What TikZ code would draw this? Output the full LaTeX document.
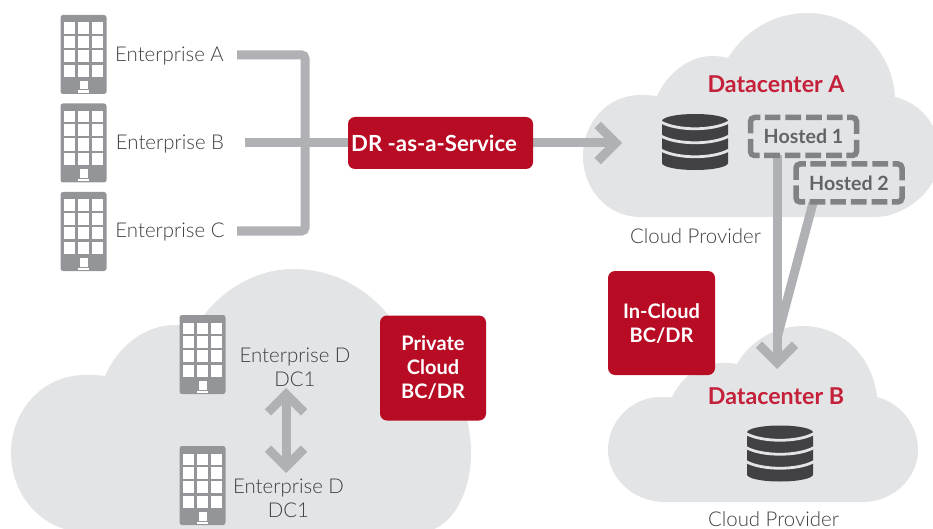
\documentclass[tikz,border=0pt]{standalone}
\usepackage{fontspec}
\setmainfont{Lato}
\newfontfamily\lightface{Lato Light}
\usetikzlibrary{arrows.meta}
\definecolor{cloudc}{HTML}{E3E4E5}
\definecolor{pipec}{HTML}{B0B1B4}
\definecolor{redbox}{HTML}{B80C24}
\definecolor{redtxt}{HTML}{C4203A}
\definecolor{txtc}{HTML}{3F3F41}
\definecolor{bldc}{HTML}{939598}
\definecolor{dbc}{HTML}{414042}
\definecolor{dashc}{HTML}{808285}
\definecolor{hostc}{HTML}{636466}
\tikzset{
  cloudshape/.style={fill=cloudc,draw=none},
  pipe/.style={draw=pipec,line width=9pt},
  headpipe/.style={draw=pipec,line width=9pt,-{Straight Barb[length=18pt,width=36pt]}},
  bothpipe/.style={draw=pipec,line width=9pt,{Straight Barb[length=18pt,width=36pt]}-{Straight Barb[length=18pt,width=36pt]}},
  redblock/.style={fill=redbox,rounded corners=7pt,inner sep=0pt,text=white,align=center,font=\fontsize{20}{24}\selectfont\bfseries},
  lbl/.style={text=txtc,inner sep=0pt,align=center,font=\lightface\fontsize{20.4}{24}\selectfont},
  dctitle/.style={text=redtxt,inner sep=0pt,font=\fontsize{23.2}{26}\selectfont\bfseries},
  hostedbox/.style={minimum width=106pt,minimum height=38pt,inner sep=0pt,outer sep=0pt,text=hostc,font=\fontsize{19.6}{24}\selectfont\bfseries},
  dashring/.style={draw=dashc,line width=5.5pt,rounded corners=4pt,dash pattern=on 0pt off 3pt on 23.9pt off 4.5pt on 15.7pt off 5pt on 15.7pt off 5pt on 15.7pt off 5pt on 15.7pt off 4.5pt on 23.9pt off 6pt on 23.9pt off 4.5pt on 15.7pt off 5pt on 15.7pt off 5pt on 15.7pt off 5pt on 15.7pt off 4.5pt on 23.9pt off 3pt},
  building/.pic={
    \fill[bldc,rounded corners=2.5pt] (0,0) rectangle (46,79);
    \foreach \cx/\cw in {3.7/10.4,17/11.8,31.5/10.8}
      \foreach \cy/\ch in {7.5/11.2,21/12,35/12.4,50/12}
        \fill[white] (\cx,\cy) rectangle ++(\cw,\ch);
    \fill[white] (19,66) rectangle (27,74.5);
    \fill[white] (17.4,75.5) rectangle (28.6,78);
  },
  dbstack/.pic={
    \fill[dbc] (0,7) .. controls (0,3.1) and (14.8,0) .. (33,0) .. controls (51.2,0) and (66,3.1) .. (66,7)
      -- (66,49) .. controls (66,52.9) and (51.2,56) .. (33,56) .. controls (14.8,56) and (0,52.9) .. (0,49) -- cycle;
    \foreach \gy in {8,22,36}
      \draw[cloudc,line width=2.8pt] (-1,\gy) .. controls (15,{\gy+9}) and (51,{\gy+9}) .. (67,\gy);
  },
}
\begin{document}
\begin{tikzpicture}[x=1pt,y=-1pt]
\useasboundingbox (0,0) rectangle (933,529);
\clip (0,0) rectangle (933,529);
% clouds
\fill[cloudshape] (640,217) .. controls (608,217) and (583,190) .. (583,156)
  .. controls (583,122) and (608,95) .. (640,95)
  .. controls (646,95) and (652,95.5) .. (657,96)
  .. controls (668,72) and (690,56) .. (712,56)
  .. controls (718,56) and (723,57) .. (728,58)
  .. controls (745,30) and (775,13) .. (807,13)
  .. controls (855,13) and (893,52) .. (895,97)
  .. controls (920,103) and (940,125) .. (940,155)
  .. controls (940,190) and (905,217) .. (875,217) -- cycle;
\fill[cloudshape] (665,502) .. controls (633,502) and (608,478) .. (608,450)
  .. controls (608,420) and (633,397) .. (660,397)
  .. controls (664,397) and (668,397) .. (672,397.5)
  .. controls (680,378) and (700,363) .. (722,363)
  .. controls (727,363) and (732,363) .. (737,364)
  .. controls (750,341) and (775,326) .. (803,326)
  .. controls (842,326) and (873,357) .. (877,397)
  .. controls (900,403) and (918,424) .. (918,450)
  .. controls (918,478) and (893,502) .. (863,502) -- cycle;
\fill[cloudshape] (85,532) .. controls (43,532) and (11,496) .. (11,453)
  .. controls (11,410) and (43,375) .. (85,375)
  .. controls (92,375) and (98,375) .. (105,376)
  .. controls (118,346) and (145,325) .. (175,325)
  .. controls (185,325) and (195,323) .. (204,315)
  .. controls (225,288) and (258,269) .. (293,269)
  .. controls (335,269) and (370,290) .. (392,320)
  .. controls (435,340) and (471,395) .. (471,453)
  .. controls (471,495) and (450,532) .. (420,532) -- cycle;
% anchors of the connectors
\coordinate (aend) at (237,55);
\coordinate (bend) at (245,143);
\coordinate (cend) at (237,231);
\coordinate (jn) at (305,143);
\coordinate (tipA) at (622,143);
\coordinate (h1out) at (777,155);
\coordinate (h2out) at (813,203);
\coordinate (tipB) at (777,369);
\coordinate (merge) at (777,338);
\coordinate (dtop) at (286,388);
\coordinate (dbot) at (286,473);
% boxes are drawn after the connectors, which run into them
\draw[pipe,rounded corners=3.5pt] (aend) -| (jn) |- (cend);
\draw[pipe] (bend) -- (400,143);
\draw[headpipe] (480,143) -- (tipA);
\draw[pipe] (h2out) -- (merge);
\draw[headpipe] (h1out) -- (tipB);
\draw[bothpipe] (dtop) -- (dbot);
% buildings
\pic at (60.5,15) {building};
\pic at (60.5,103.5) {building};
\pic at (60.5,192) {building};
\pic at (179.5,315) {building};
\pic at (179.5,446) {building};
% databases
\pic at (662,114) {dbstack};
\pic at (747,425.5) {dbstack};
% labels
\node[lbl] (entA) at (169.5,56) {Enterprise A};
\node[lbl] (entB) at (170,144) {Enterprise B};
\node[lbl] (entC) at (170,232) {Enterprise C};
\node[lbl] (entD1) at (295,367) {Enterprise D\\DC1};
\node[lbl] (entD2) at (288.5,498) {Enterprise D\\DC1};
\node[lbl] (cpA) at (695.5,236) {Cloud Provider};
\node[lbl] (cpB) at (773.5,519.5) {Cloud Provider};
\node[dctitle] (dcA) at (776,84) {Datacenter A};
\node[dctitle] (dcB) at (776,396) {Datacenter B};
% boxes
\node[redblock,minimum width=185pt,minimum height=52pt,font=\fontsize{22.2}{26}\selectfont\bfseries] (dr) at (440.5,143) {\hspace*{-13pt}DR -as-a-Service};
\node[redblock,minimum width=106pt,minimum height=105pt] (priv) at (433,368) {Private\\Cloud\\BC/DR};
\node[redblock,minimum width=107pt,minimum height=104pt,text depth=0pt] (incl) at (661.5,323) {In-Cloud\\BC/DR};
\node[hostedbox] (h1) at (803.5,136.5) {Hosted 1};
\node[hostedbox] (h2) at (849,183) {Hosted 2};
\draw[dashring] (h1.west) |- (h1.north east) |- (h1.south west) -- (h1.west);
\draw[dashring] (h2.west) |- (h2.north east) |- (h2.south west) -- (h2.west);
\end{tikzpicture}
\end{document}
